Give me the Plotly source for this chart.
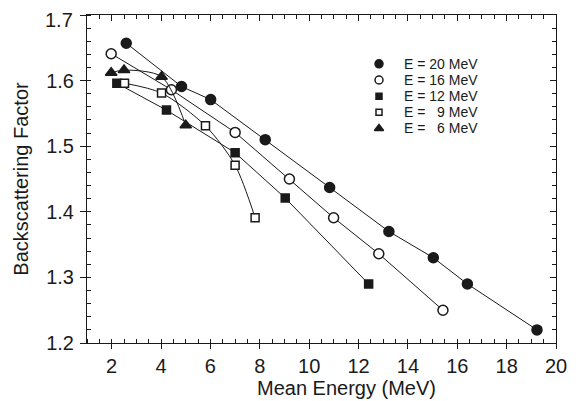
import plotly.graph_objects as go

# Data
e20_x = [2.59, 4.83, 6.01, 8.22, 10.83, 13.23, 15.03, 16.41, 19.23]
e20_y = [1.657, 1.591, 1.571, 1.510, 1.437, 1.370, 1.330, 1.290, 1.220]
e16_x = [1.98, 4.42, 7.00, 9.20, 10.99, 12.82, 15.42]
e16_y = [1.641, 1.586, 1.521, 1.450, 1.391, 1.336, 1.250]
e12_x = [2.21, 4.22, 7.00, 9.03, 12.41]
e12_y = [1.596, 1.555, 1.490, 1.421, 1.290]
e9_x = [2.52, 4.02, 5.80, 7.00, 7.81]
e9_y = [1.596, 1.581, 1.531, 1.471, 1.391]
e6_x = [1.98, 2.50, 4.02, 5.00]
e6_y = [1.612, 1.616, 1.606, 1.532]

labels = ["E = 20 MeV", "E = 16 MeV", "E = 12 MeV",
          "E =\u00a0\u00a0\u00a09 MeV", "E =\u00a0\u00a0\u00a06 MeV"]
x_ticks = [2, 4, 6, 8, 10, 12, 14, 16, 18, 20]
y_ticks = [1.2, 1.3, 1.4, 1.5, 1.6, 1.7]
y_tick_text = ["1.2", "1.3", "1.4", "1.5", "1.6", "1.7"]

FONT = "Liberation Sans, Arial, sans-serif"
INK = "#1a1a1a"

series = [
    (e20_x, e20_y, "circle", INK, 10, "linear"),
    (e16_x, e16_y, "circle", "white", 10, "linear"),
    (e12_x, e12_y, "square", INK, 8, "linear"),
    (e9_x, e9_y, "square", "white", 8, "spline"),
    (e6_x, e6_y, "triangle-up", INK, 10, "spline"),
]

fig = go.Figure()
for xs, ys, sym, fill, sz, shp in series:
    fig.add_trace(go.Scatter(
        x=xs, y=ys, mode="lines+markers", showlegend=False,
        line=dict(color=INK, width=1, shape=shp, smoothing=0.8),
        marker=dict(symbol=sym, color=fill, size=sz, line=dict(color=INK, width=1.5)),
    ))

# hand-drawn legend on a hidden unit axis overlaying the plot area
leg_x0, leg_y0, leg_dy = 0.6226, 0.851, 0.0492
for i, ((xs, ys, sym, fill, sz, shp), lab) in enumerate(zip(series, labels)):
    yy = leg_y0 - i * leg_dy
    fig.add_trace(go.Scatter(
        x=[leg_x0], y=[yy], xaxis="x3", yaxis="y3", mode="markers", showlegend=False,
        hoverinfo="skip",
        marker=dict(symbol=sym, color=fill, size=sz - 2, line=dict(color=INK, width=1.5)),
    ))
    fig.add_annotation(x=leg_x0 + 0.049, y=yy, xref="x3", yref="y3", text=lab,
                       showarrow=False, xanchor="left", yanchor="middle",
                       font=dict(size=14, family=FONT, color=INK))

# x-axis title (sits right of centre in the reference)
fig.add_annotation(x=0.554, y=-0.137, xref="paper", yref="paper", text="Mean Energy (MeV)",
                   showarrow=False, xanchor="center", yanchor="middle",
                   font=dict(size=20, family=FONT, color=INK))

# top tick label drawn separately so it stays inside the page
axis_tick_text = y_tick_text[:-1] + [""]
fig.add_annotation(x=0, y=1, xref="paper", yref="paper", text=y_tick_text[-1],
                   showarrow=False, xanchor="right", yanchor="top",
                   xshift=-13, yshift=7, borderpad=0,
                   font=dict(size=20, family=FONT, color=INK))

# invisible trace to anchor mirror axes
fig.add_trace(go.Scatter(x=[None], y=[None], xaxis="x2", yaxis="y2", showlegend=False, hoverinfo="skip"))

common = dict(showgrid=False, zeroline=False, showline=True, linecolor=INK, linewidth=1,
              tickcolor=INK, tickwidth=1, automargin=False)

# page body has an 8px default margin; compensate in the plot margins
fig.update_layout(
    width=580, height=401,
    margin=dict(l=79, r=32, t=7, b=66, autoexpand=False),
    paper_bgcolor="white", plot_bgcolor="white",
    font=dict(family=FONT, color=INK, size=20),
    showlegend=False,
    xaxis=dict(range=[1, 20], tickmode="array", tickvals=x_ticks, ticks="outside", ticklen=5,
               minor=dict(dtick=0.5, tick0=0, ticks="inside", ticklen=4, tickcolor=INK),
               tickfont=dict(size=20), **common),
    yaxis=dict(range=[1.2, 1.7], tickmode="array", tickvals=y_ticks, ticktext=axis_tick_text,
               ticks="outside", ticklen=6, ticklabelstandoff=2,
               minor=dict(dtick=0.02, tick0=1.2, ticks="inside", ticklen=4, tickcolor=INK),
               title=dict(text="Backscattering Factor", standoff=12, font=dict(size=20)),
               tickfont=dict(size=20), **common),
    xaxis2=dict(overlaying="x", side="top", range=[1, 20], tickmode="array", tickvals=x_ticks,
                ticks="inside", ticklen=6, showticklabels=False, matches="x",
                minor=dict(dtick=0.5, tick0=0, ticks="inside", ticklen=4, tickcolor=INK), **common),
    yaxis2=dict(overlaying="y", side="right", range=[1.2, 1.7], tickmode="array", tickvals=y_ticks,
                ticks="inside", ticklen=6, showticklabels=False, matches="y",
                minor=dict(dtick=0.02, tick0=1.2, ticks="inside", ticklen=4, tickcolor=INK), **common),
    xaxis3=dict(overlaying="x", range=[0, 1], visible=False, fixedrange=True),
    yaxis3=dict(overlaying="y", range=[0, 1], visible=False, fixedrange=True),
)

fig.write_html("out.html")
